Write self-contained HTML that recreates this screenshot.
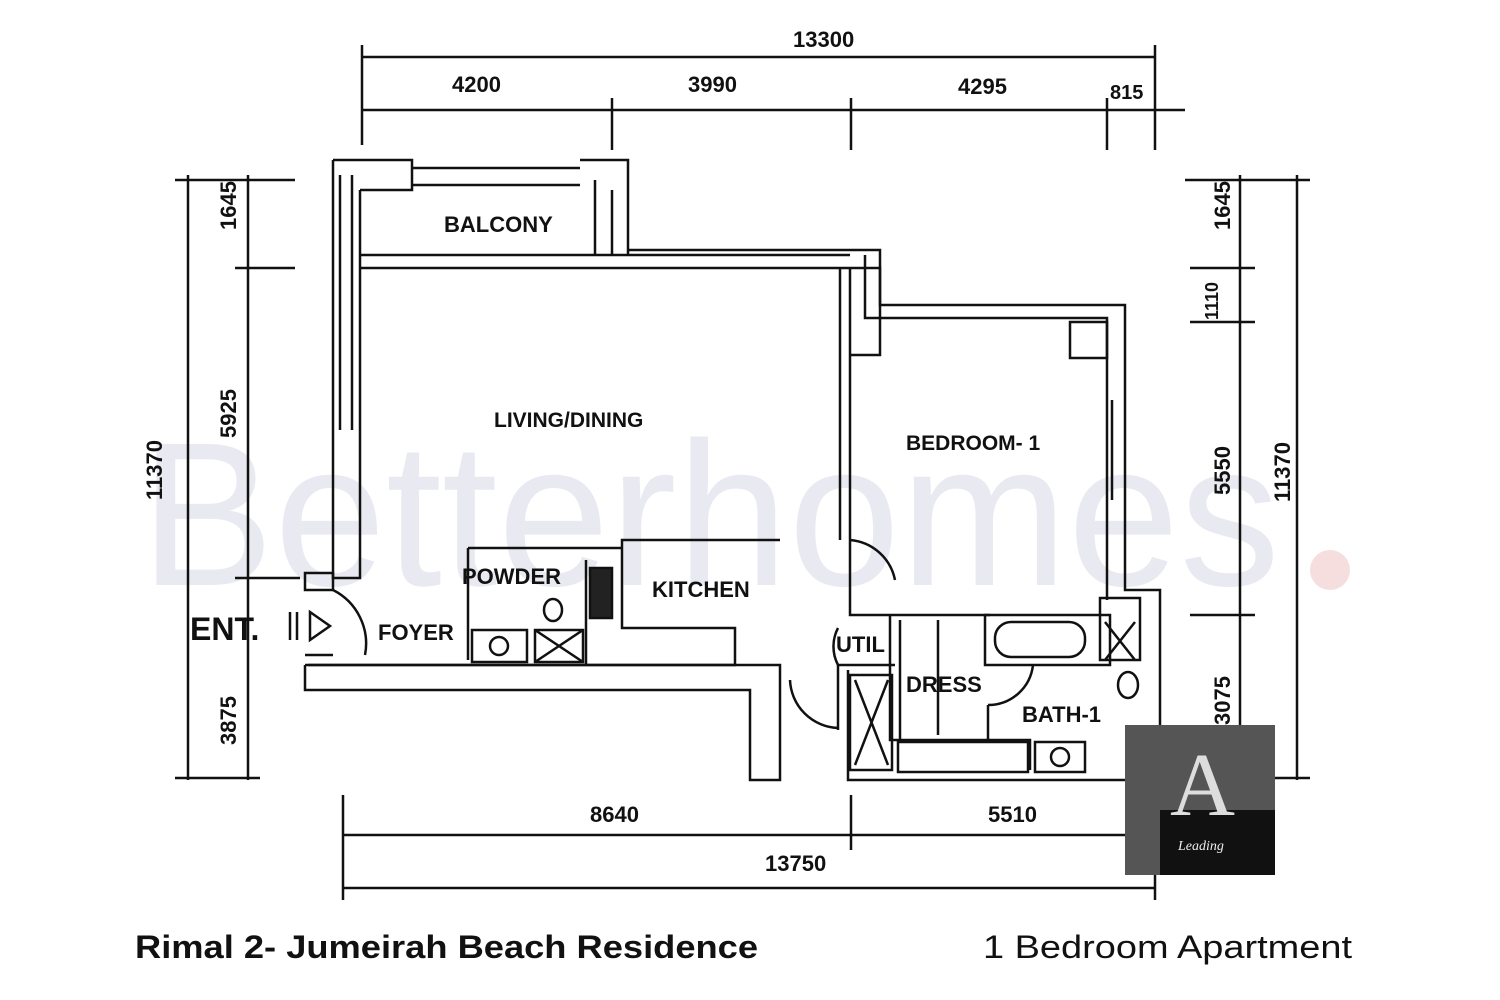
<!DOCTYPE html>
<html><head><meta charset="utf-8"><style>
html,body{margin:0;padding:0;background:#fff;}
svg{display:block}
text{font-family:"Liberation Sans",sans-serif;font-weight:bold;fill:#111}
</style></head><body>
<svg width="1500" height="1000" viewBox="0 0 1500 1000" xmlns="http://www.w3.org/2000/svg">
<rect width="1500" height="1000" fill="#fff"/>
<!-- watermark -->
<text x="140" y="585" font-size="205" fill="#e6e7ef" style="fill:#e9eaf1;font-weight:normal" textLength="1140" lengthAdjust="spacingAndGlyphs">Betterhomes</text>
<circle cx="1330" cy="570" r="20" fill="#f6dede"/>

<g stroke="#111" fill="none" stroke-width="2.5">
<!-- top dims -->
<line x1="362" y1="57" x2="1155" y2="57"/>
<line x1="362" y1="110" x2="1185" y2="110"/>
<line x1="362" y1="45" x2="362" y2="145"/>
<line x1="612" y1="98" x2="612" y2="150"/>
<line x1="851" y1="98" x2="851" y2="150"/>
<line x1="1107" y1="98" x2="1107" y2="150"/>
<line x1="1155" y1="45" x2="1155" y2="150"/>
<!-- left dims -->
<line x1="188" y1="175" x2="188" y2="780"/>
<line x1="248" y1="175" x2="248" y2="780"/>
<line x1="175" y1="180" x2="295" y2="180"/>
<line x1="235" y1="268" x2="295" y2="268"/>
<line x1="235" y1="578" x2="300" y2="578"/>
<line x1="175" y1="778" x2="260" y2="778"/>
<!-- right dims -->
<line x1="1297" y1="175" x2="1297" y2="780"/>
<line x1="1240" y1="175" x2="1240" y2="780"/>
<line x1="1185" y1="180" x2="1310" y2="180"/>
<line x1="1190" y1="268" x2="1255" y2="268"/>
<line x1="1190" y1="322" x2="1255" y2="322"/>
<line x1="1190" y1="615" x2="1255" y2="615"/>
<line x1="1170" y1="778" x2="1310" y2="778"/>
<!-- bottom dims -->
<line x1="343" y1="835" x2="1155" y2="835"/>
<line x1="343" y1="888" x2="1155" y2="888"/>
<line x1="343" y1="795" x2="343" y2="900"/>
<line x1="851" y1="795" x2="851" y2="850"/>
<line x1="1155" y1="795" x2="1155" y2="900"/>

<!-- walls -->
<path d="M333 160 H412 V190 H360"/>
<path d="M333 160 V578 H360 V190"/>
<path d="M340 175 V430 M352 175 V430"/>
<path d="M412 168 H580 M412 185 H580"/>
<path d="M580 160 H628 V255 M595 180 V255 M612 190 V255"/>
<path d="M360 255 H850 M360 268 H840"/>
<path d="M628 250 H880 V305 H1125 V590 H1160 V780"/>
<path d="M865 255 V318 H1107 V600"/>
<path d="M840 268 V540 M850 268 V540 M840 268 H880 V355 H850"/>
<path d="M1070 322 H1107 V358 H1070 Z"/>
<path d="M1112 400 V500"/>
<!-- entry -->
<path d="M305 573 H333 V590 H305 Z"/>
<path d="M305 655 H333 M305 665 V690 H750 V780 H780 V665 H308"/>
<path d="M305 665 H735 V628 H622 V540 H780 M468 548 H622 M468 548 V660"/>
<path d="M290 612 V640 M297 612 V640 M310 612 L330 626 L310 640 Z"/>
<path d="M333 590 A60 60 0 0 1 365 655"/>
<!-- kitchen / powder -->
<rect x="472" y="630" width="55" height="32"/>
<circle cx="499" cy="646" r="9"/>
<rect x="535" y="630" width="48" height="32"/>
<path d="M535 630 L583 662 M583 630 L535 662"/>
<ellipse cx="553" cy="610" rx="9" ry="11"/>
<rect x="590" y="568" width="22" height="50" fill="#222"/>
<path d="M586 560 V665"/>
<!-- util / bedroom door -->
<path d="M850 540 V615 H990 M850 540 A50 50 0 0 1 895 580"/>
<path d="M838 628 A40 40 0 0 0 838 665 H895"/>
<path d="M838 665 V730 M838 728 A50 50 0 0 1 790 680"/>
<rect x="850" y="675" width="42" height="95"/>
<path d="M855 680 L888 765 M888 680 L855 765"/>
<path d="M848 670 V780 H1155 M890 615 V740 H1030 V770"/>
<path d="M900 620 V740 M938 620 V735"/>
<rect x="898" y="742" width="130" height="30"/>
<path d="M985 615 H1110 V665 H985 Z"/>
<rect x="995" y="622" width="90" height="35" rx="16"/>
<path d="M1100 598 H1140 V660 H1100 Z M1105 622 L1135 660 M1135 622 L1105 660"/>
<ellipse cx="1128" cy="685" rx="10" ry="13"/>
<rect x="1035" y="742" width="50" height="30"/>
<circle cx="1060" cy="757" r="9"/>
<path d="M988 705 V740 M988 705 A45 45 0 0 0 1033 665"/>
</g>

<!-- labels -->
<g font-size="22">
<text x="793" y="47">13300</text>
<text x="452" y="92">4200</text>
<text x="688" y="92">3990</text>
<text x="958" y="94">4295</text>
<text x="1110" y="99" font-size="20">815</text>
<text x="590" y="822">8640</text>
<text x="988" y="822">5510</text>
<text x="765" y="871">13750</text>
<text x="444" y="232">BALCONY</text>
<text x="494" y="427" font-size="21">LIVING/DINING</text>
<text x="906" y="450" font-size="21">BEDROOM- 1</text>
<text x="462" y="584">POWDER</text>
<text x="652" y="597">KITCHEN</text>
<text x="378" y="640">FOYER</text>
<text x="836" y="652">UTIL</text>
<text x="906" y="692">DRESS</text>
<text x="1022" y="722">BATH-1</text>
<text x="190" y="640" font-size="32">ENT.</text>
</g>
<g font-size="22">
<text transform="translate(236,230) rotate(-90)">1645</text>
<text transform="translate(236,438) rotate(-90)">5925</text>
<text transform="translate(236,745) rotate(-90)">3875</text>
<text transform="translate(162,500) rotate(-90)">11370</text>
<text transform="translate(1230,230) rotate(-90)">1645</text>
<text transform="translate(1218,320) rotate(-90)" font-size="18">1110</text>
<text transform="translate(1230,495) rotate(-90)">5550</text>
<text transform="translate(1230,725) rotate(-90)">3075</text>
<text transform="translate(1290,502) rotate(-90)">11370</text>
</g>
<!-- logo -->
<rect x="1125" y="725" width="150" height="150" fill="#555"/>
<rect x="1160" y="810" width="115" height="65" fill="#111"/>
<text x="1170" y="815" font-size="90" style="fill:#ddd;font-family:'Liberation Serif',serif;font-weight:normal">A</text>
<text x="1178" y="850" font-size="14" style="fill:#eee;font-style:italic;font-weight:normal;font-family:'Liberation Serif',serif">Leading</text>

<text x="135" y="958" font-size="32" textLength="623" lengthAdjust="spacingAndGlyphs" style="font-weight:bold">Rimal 2- Jumeirah Beach Residence</text>
<text x="983" y="958" font-size="32" textLength="369" lengthAdjust="spacingAndGlyphs" style="font-weight:normal">1 Bedroom Apartment</text>
</svg>
</body></html>
